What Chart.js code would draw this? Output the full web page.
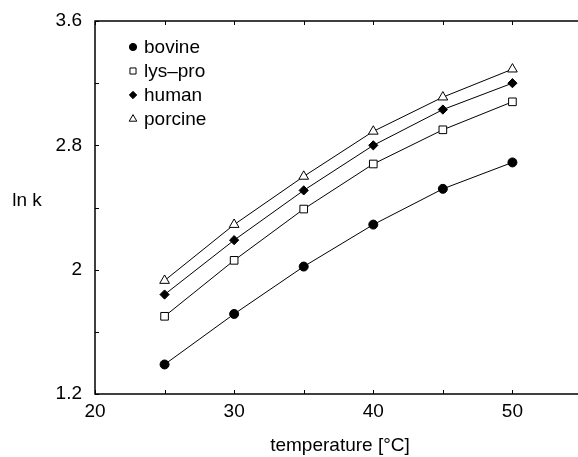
<!DOCTYPE html>
<html>
<head>
<meta charset="utf-8">
<script src="https://cdn.jsdelivr.net/npm/chart.js@4.4.0/dist/chart.umd.min.js"></script>
<style>
  html, body { margin: 0; padding: 0; background: #fff; overflow: hidden; }
  #wrap { position: absolute; left: 0; top: 0; width: 578px; height: 457px; overflow: hidden; }
  canvas { position: absolute; left: 0; top: 0; }
</style>
</head>
<body>
<div id="wrap"><canvas id="ChartLnK" width="582" height="457"></canvas></div>
<script>
// temperatures in °C
const temperatures = [25, 30, 35, 40, 45, 50];
// ln k values
const bovine  = [1.39, 1.715, 2.02, 2.29, 2.52, 2.69];
const lysPro  = [1.70, 2.06, 2.39, 2.68, 2.90, 3.08];
const human   = [1.84, 2.19, 2.51, 2.80, 3.03, 3.20];
const porcine = [1.93, 2.29, 2.60, 2.89, 3.11, 3.29];

const seriesNames = ['bovine', 'lys\u2013pro', 'human', 'porcine'];

const xTicks = [20, 30, 40, 50];
const xMinorTicks = [25, 35, 45, 55];
const yTicks = [1.2, 2, 2.8, 3.6];
const yMinorTicks = [1.6, 2.4, 3.2];

const FONT = '"Liberation Sans", Arial, Helvetica, sans-serif';

function points(ys) {
    return temperatures.map(function (t, i) { return { x: t, y: ys[i] }; });
}

const styles = [
    { pointStyle: 'circle',   radius: 4.5, fill: '#000', legendRadius: 3.6 },
    { pointStyle: 'rect',     radius: 5.4, fill: '#fff', legendRadius: 4.3 },
    { pointStyle: 'rectRot',  radius: 4.6, fill: '#000', legendRadius: 3.7 },
    { pointStyle: 'triangle', radius: 5.6, fill: '#fff', legendRadius: 4.4 }
];

const seriesData = [bovine, lysPro, human, porcine];

const datasets = seriesData.map(function (ys, i) {
    return {
        label: seriesNames[i],
        data: points(ys),
        borderColor: '#000',
        borderWidth: 1,
        pointStyle: styles[i].pointStyle,
        pointRadius: styles[i].radius,
        pointBackgroundColor: styles[i].fill,
        pointBorderColor: '#000',
        pointBorderWidth: 1,
        fill: false,
        tension: 0
    };
});

// frame, inward ticks, axis titles and the legend inside the plot
const decorations = {
    id: 'decorations',
    afterDraw: function (chart) {
        const ctx = chart.ctx;
        const a = chart.chartArea;
        const xs = chart.scales.x;
        const ys = chart.scales.y;
        ctx.save();
        ctx.strokeStyle = '#000';
        ctx.lineWidth = 1.5;
        ctx.strokeRect(a.left, a.top, a.right - a.left, a.bottom - a.top);

        ctx.lineWidth = 1;
        ctx.beginPath();
        xTicks.concat(xMinorTicks).forEach(function (v) {
            const px = Math.round(xs.getPixelForValue(v)) + 0.5;
            ctx.moveTo(px, a.bottom); ctx.lineTo(px, a.bottom - 4);
            ctx.moveTo(px, a.top); ctx.lineTo(px, a.top + 4);
        });
        yTicks.concat(yMinorTicks).forEach(function (v) {
            const py = Math.round(ys.getPixelForValue(v)) + 0.5;
            ctx.moveTo(a.left, py); ctx.lineTo(a.left + 4, py);
            ctx.moveTo(a.right, py); ctx.lineTo(a.right - 4, py);
        });
        ctx.stroke();

        ctx.fillStyle = '#000';
        ctx.font = '19px ' + FONT;
        ctx.textAlign = 'center';
        ctx.textBaseline = 'middle';
        ctx.fillText('ln k', 27, 201);
        ctx.fillText('temperature [\u00b0C]', 340, 446);

        // legend
        const draw = Chart.helpers && Chart.helpers.drawPoint;
        ctx.textAlign = 'left';
        chart.data.datasets.forEach(function (ds, i) {
            const ly = 47 + i * 24;
            ctx.fillStyle = styles[i].fill;
            ctx.strokeStyle = '#000';
            ctx.lineWidth = 1;
            if (draw) {
                draw(ctx, { pointStyle: styles[i].pointStyle, radius: styles[i].legendRadius, rotation: 0, borderWidth: 1 }, 133, ly);
            }
            ctx.fillStyle = '#000';
            ctx.fillText(ds.label, 144, ly + 1);
        });
        ctx.restore();
    }
};

const ChartLnK = document.getElementById('ChartLnK');
new Chart(ChartLnK, {
    type: 'line',
    data: { datasets: datasets },
    plugins: [decorations],
    options: {
        responsive: false,
        devicePixelRatio: 1,
        animation: false,
        layout: { autoPadding: false, padding: { top: 21, left: 0, right: 0, bottom: 0 } },
        plugins: {
            legend: { display: false },
            tooltip: { enabled: false }
        },
        scales: {
            x: {
                type: 'linear',
                min: 20,
                max: 55,
                afterBuildTicks: function (scale) {
                    scale.ticks = xTicks.map(function (v) { return { value: v }; });
                },
                afterFit: function (scale) {
                    scale.height = 63;
                    scale.paddingLeft = 0;
                    scale.paddingRight = 0;
                },
                grid: { display: false, drawTicks: false },
                border: { display: false },
                ticks: {
                    color: '#000',
                    padding: 6,
                    maxRotation: 0,
                    font: { family: FONT, size: 19 },
                    callback: function (v) { return String(v); }
                }
            },
            y: {
                type: 'linear',
                min: 1.2,
                max: 3.6,
                afterBuildTicks: function (scale) {
                    scale.ticks = yTicks.map(function (v) { return { value: v }; });
                },
                afterFit: function (scale) {
                    scale.width = 95;
                    scale.paddingTop = 0;
                    scale.paddingBottom = 0;
                },
                grid: { display: false, drawTicks: false },
                border: { display: false },
                ticks: {
                    color: '#000',
                    padding: 13,
                    font: { family: FONT, size: 19 },
                    callback: function (v) { return String(v); }
                }
            }
        }
    }
});
</script>
</body>
</html>
